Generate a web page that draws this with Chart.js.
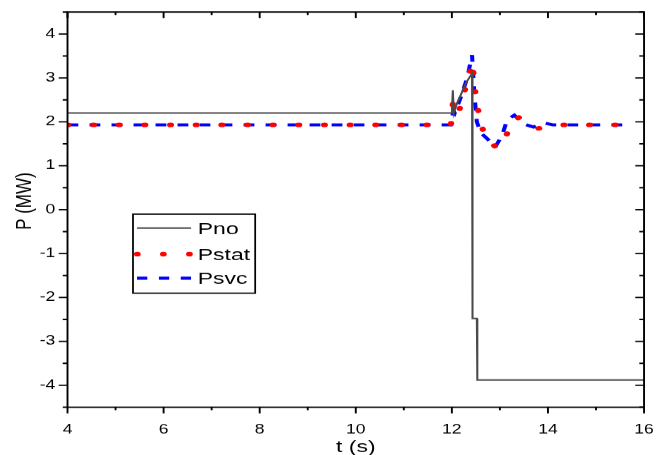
<!DOCTYPE html>
<html>
<head>
<meta charset="utf-8">
<script src="https://cdn.jsdelivr.net/npm/chart.js@4"></script>
<style>
  html, body { margin: 0; padding: 0; background: #fff; }
  #powerChart { display: block; width: 667px; height: 455px; }
</style>
</head>
<body>
<!-- drawn at 494 wide and stretched to 667 so the glyphs are as wide as in the original export -->
<canvas id="powerChart" width="494" height="455" style="width:667px;height:455px"></canvas>
<script>
// time (s) and active power (MW) for each case
var pnoT   = [4, 12, 12.02, 12.04, 12.1, 12.2, 12.3, 12.42, 12.43, 12.52, 12.53, 16];
var pnoP   = [2.2, 2.2, 2.72, 2.2, 2.4, 2.65, 2.9, 3.1, -2.48, -2.48, -3.88, -3.88];

var statT  = [4, 11.98, 12.02, 12.08, 12.15, 12.25, 12.35, 12.42, 12.46, 12.5, 12.55, 12.65, 12.8, 12.93, 13.1, 13.25, 13.4, 13.6, 13.8, 14.0, 14.2, 15.6];
var statP  = [1.93, 1.93, 2.4, 2.15, 2.25, 2.65, 3.0, 3.35, 3.0, 2.5, 2.25, 1.8, 1.55, 1.4, 1.6, 2.0, 2.1, 2.0, 1.85, 1.88, 1.93, 1.93];

var svcT   = [4, 11.98, 12.03, 12.06, 12.2, 12.32, 12.42, 12.47, 12.52, 12.6, 12.75, 12.9, 13.05, 13.15, 13.3, 13.5, 13.7, 13.9, 14.1, 15.72];
var svcP   = [1.93, 1.93, 2.25, 2.2, 2.6, 3.0, 3.52, 2.6, 2.0, 1.75, 1.6, 1.42, 1.7, 2.05, 2.15, 1.95, 1.88, 1.98, 1.93, 1.93];

var seriesNames = ['Pno', 'Pstat', 'Psvc'];
var xTicks = [4, 6, 8, 10, 12, 14, 16];
var yTicks = [-4, -3, -2, -1, 0, 1, 2, 3, 4];
var xTitle = 't (s)';
var yTitle = 'P (MW)';

var STRETCH = 667 / 494;

function pts(t, p) {
    return t.map(function (v, i) { return { x: v, y: p[i] }; });
}

var FONT = '"Liberation Sans", Arial, sans-serif';

// frame, ticks on all four sides, axis titles
var framePlugin = {
    id: 'frame',
    afterDraw: function (chart) {
        var ctx = chart.ctx, a = chart.chartArea;
        var xs = chart.scales.x, ys = chart.scales.y;
        ctx.save();
        ctx.strokeStyle = '#000';
        ctx.lineWidth = 1.4;
        ctx.strokeRect(a.left, a.top, a.right - a.left, a.bottom - a.top);
        ctx.beginPath();
        for (var t = 4; t <= 16; t += 1) {
            var px = xs.getPixelForValue(t);
            var len = (t % 2 === 0) ? 6 : 3;
            ctx.moveTo(px, a.bottom); ctx.lineTo(px, a.bottom + len);
            ctx.moveTo(px, a.top); ctx.lineTo(px, a.top + len);
        }
        for (var v = -4.5; v <= 4.5; v += 0.5) {
            var py = ys.getPixelForValue(v);
            var l2 = Number.isInteger(v) ? 6.5 : 3.5;
            ctx.moveTo(a.left, py); ctx.lineTo(a.left - l2, py);
            ctx.moveTo(a.right, py); ctx.lineTo(a.right - l2, py);
        }
        ctx.stroke();

        ctx.fillStyle = '#000';
        ctx.font = '17px ' + FONT;
        ctx.textAlign = 'center';
        ctx.textBaseline = 'middle';
        ctx.fillText(xTitle, (a.left + a.right) / 2, 447);
        ctx.translate(18.5, 201);
        ctx.rotate(-Math.PI / 2);
        ctx.fillText(yTitle, 0, 0);
        ctx.restore();
    }
};

// boxed legend inside the plot
var legendPlugin = {
    id: 'boxLegend',
    afterDraw: function (chart) {
        var ctx = chart.ctx;
        var bx = 98.5, by = 214, bw = 90.5, bh = 79;
        ctx.save();
        ctx.strokeStyle = '#000';
        ctx.lineWidth = 1.3;
        ctx.strokeRect(bx, by, bw, bh);
        var rows = [228, 254, 278];
        chart.data.datasets.forEach(function (ds, i) {
            var y = rows[i];
            ctx.save();
            ctx.strokeStyle = ds.borderColor;
            ctx.lineWidth = ds.borderWidth;
            ctx.lineCap = ds.borderCapStyle || 'butt';
            ctx.setLineDash(ds.legendDash || []);
            ctx.beginPath();
            ctx.moveTo(101.5, y);
            ctx.lineTo(141.5, y);
            ctx.stroke();
            ctx.restore();
            ctx.fillStyle = '#000';
            ctx.font = '17px ' + FONT;
            ctx.textBaseline = 'middle';
            ctx.fillText(ds.label, 146.5, y + 1);
        });
        ctx.restore();
    }
};

function noOverhang(scale) {
    scale.paddingLeft = 0;
    scale.paddingRight = 0;
    scale.paddingTop = 0;
    scale.paddingBottom = 0;
}

var ctx = document.getElementById('powerChart').getContext('2d');
var chart = new Chart(ctx, {
    type: 'line',
    data: {
        datasets: [{
            label: seriesNames[0],
            data: pts(pnoT, pnoP),
            borderColor: '#4a4a4a',
            borderWidth: 1.5,
            pointRadius: 0,
            tension: 0
        }, {
            label: seriesNames[1],
            data: pts(statT, statP),
            borderColor: '#ff0000',
            borderWidth: 4.6,
            borderDash: [0.6, 18.4],
            borderCapStyle: 'round',
            legendDash: [0.4, 18.9],
            pointRadius: 0,
            tension: 0
        }, {
            label: seriesNames[2],
            data: pts(svcT, svcP),
            borderColor: '#0000ff',
            borderWidth: 3,
            borderDash: [8, 8.3],
            legendDash: [7.6, 8.6],
            pointRadius: 0,
            tension: 0
        }]
    },
    options: {
        responsive: false,
        animation: false,
        devicePixelRatio: STRETCH,
        layout: { padding: { top: 12, right: 17, left: 0, bottom: 0 } },
        plugins: {
            legend: { display: false },
            tooltip: { enabled: false }
        },
        scales: {
            x: {
                type: 'linear',
                min: 4,
                max: 16,
                afterBuildTicks: function (scale) {
                    scale.ticks = xTicks.map(function (v) { return { value: v }; });
                },
                ticks: {
                    autoSkip: false,
                    maxRotation: 0,
                    padding: 15,
                    color: '#000',
                    font: { family: FONT, size: 13 }
                },
                grid: { drawOnChartArea: false, drawTicks: false },
                border: { display: false },
                afterFit: function (scale) { scale.height = 48; noOverhang(scale); }
            },
            y: {
                min: -4.5,
                max: 4.5,
                afterBuildTicks: function (scale) {
                    scale.ticks = yTicks.map(function (v) { return { value: v }; });
                },
                ticks: {
                    autoSkip: false,
                    padding: 9,
                    color: '#000',
                    font: { family: FONT, size: 13 }
                },
                grid: { drawOnChartArea: false, drawTicks: false },
                border: { display: false },
                afterFit: function (scale) { scale.width = 50; noOverhang(scale); }
            }
        }
    },
    plugins: [framePlugin, legendPlugin]
});
</script>
</body>
</html>
